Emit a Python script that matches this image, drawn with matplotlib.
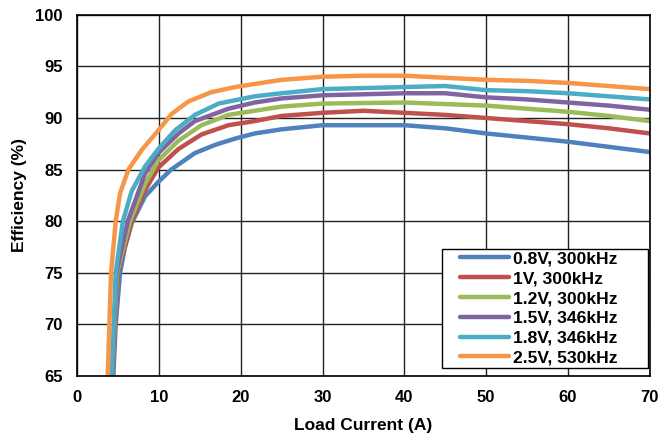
import matplotlib
matplotlib.use("Agg")
import matplotlib.pyplot as plt
from matplotlib.patches import Rectangle

plt.rcParams["font.family"] = ["Liberation Sans", "DejaVu Sans"]
plt.rcParams["font.weight"] = "bold"

labels = ["0.8V, 300kHz", "1V, 300kHz", "1.2V, 300kHz",
          "1.5V, 346kHz", "1.8V, 346kHz", "2.5V, 530kHz"]
colors = ["#4F81BD", "#C0504D", "#9BBB59", "#8064A2", "#4BACC6", "#F79646"]

# load current (A) and efficiency (%)
x_08 = [4.43, 4.72, 5.25, 5.86, 6.67, 8.3, 9.93, 11.5, 14.4, 16.9, 19.3, 21.7,
        25, 30, 35, 40, 45, 50, 55, 60, 65, 70]
y_08 = [65, 70, 75, 77.5, 79.8, 82.4, 83.8, 85.0, 86.6, 87.4, 88.0, 88.5,
        88.9, 89.3, 89.3, 89.3, 89.0, 88.5, 88.1, 87.7, 87.2, 86.7]

x_10 = [4.35, 4.95, 6.7, 8.3, 9.93, 12.4, 15.2, 18.5, 21.7, 25, 30, 35, 40,
        45, 50, 55, 60, 65, 70]
y_10 = [65, 75, 80, 83.0, 85.2, 87.0, 88.4, 89.3, 89.7, 90.2, 90.5, 90.7, 90.5,
        90.3, 90.0, 89.7, 89.4, 89.0, 88.5]

x_12 = [4.3, 4.88, 6.47, 8.3, 9.93, 12.4, 15.2, 18.5, 21.7, 25, 30, 40, 50,
        55, 60, 65, 70]
y_12 = [65, 75, 80, 83.6, 85.9, 87.8, 89.3, 90.3, 90.7, 91.1, 91.4, 91.5, 91.2,
        90.9, 90.6, 90.2, 89.7]

x_15 = [4.28, 4.8, 6.2, 8.3, 9.93, 12.4, 14.4, 18.5, 21.7, 25, 30, 40, 45,
        50, 55, 60, 65, 70]
y_15 = [65, 75, 80, 84.6, 86.6, 88.5, 89.7, 90.9, 91.5, 91.9, 92.2, 92.4, 92.4,
        92.0, 91.8, 91.5, 91.2, 90.8]

x_18 = [4.23, 4.72, 5.6, 6.67, 8.3, 9.93, 11.97, 14.4, 17.3, 21.7, 25, 30, 35,
        40, 45, 50, 55, 60, 65, 70]
y_18 = [65, 75, 80, 82.9, 85.3, 87.0, 88.8, 90.3, 91.4, 92.1, 92.4, 92.8, 92.9,
        93.0, 93.1, 92.7, 92.6, 92.4, 92.1, 91.8]

x_25 = [3.74, 4.15, 4.72, 5.25, 6.27, 7.9, 9.93, 11.56, 13.6, 16.4, 19.3, 21.7,
        25, 30, 35, 40, 45, 50, 55, 60, 65, 70]
y_25 = [65, 75, 80, 82.7, 85.0, 86.9, 88.8, 90.4, 91.6, 92.5, 93.0, 93.3,
        93.7, 94.0, 94.1, 94.1, 93.9, 93.7, 93.6, 93.4, 93.1, 92.8]

series = [(x_08, y_08), (x_10, y_10), (x_12, y_12),
          (x_15, y_15), (x_18, y_18), (x_25, y_25)]

fig = plt.figure(figsize=(6.59, 4.37), dpi=100)
ax = fig.add_axes([0.117, 0.14, 0.869, 0.826])

for (xs, ys), lab, col in zip(series, labels, colors):
    ax.plot(xs, ys, color=col, lw=3.2, label=lab,
            solid_capstyle="round", solid_joinstyle="round")

ax.set_xlim(0, 70)
ax.set_ylim(65, 100)
ax.set_xticks(range(0, 71, 10))
ax.set_yticks(range(65, 101, 5))
ax.grid(True, color="#222222", lw=1.0)
ax.set_axisbelow(True)
for sp in ax.spines.values():
    sp.set_color("black")
    sp.set_linewidth(1.2)
ax.tick_params(labelsize=12, length=0, pad=10.5)
for t in ax.get_xticklabels() + ax.get_yticklabels():
    t.set_fontweight("bold")

ax.set_xlabel("Load Current (A)", fontsize=12.5, fontweight="bold", labelpad=9)
ax.set_ylabel("Efficiency (%)", fontsize=12.5, fontweight="bold", labelpad=6)

# Excel-style legend box: wide frame, content offset to the left
box = Rectangle((0.637, 0.022), 0.3595, 0.33, transform=ax.transAxes,
                facecolor="white", edgecolor="black", lw=1.0, zorder=4)
ax.add_patch(box)
leg = ax.legend(loc="upper left", bbox_to_anchor=(0.668, 0.345),
                fontsize=12.6, frameon=False, handlelength=2.8,
                handletextpad=0.25, labelspacing=0.26, borderpad=0,
                borderaxespad=0)
leg.set_zorder(5)
for t in leg.get_texts():
    t.set_fontweight("bold")

fig.savefig("out.png", dpi=100)
